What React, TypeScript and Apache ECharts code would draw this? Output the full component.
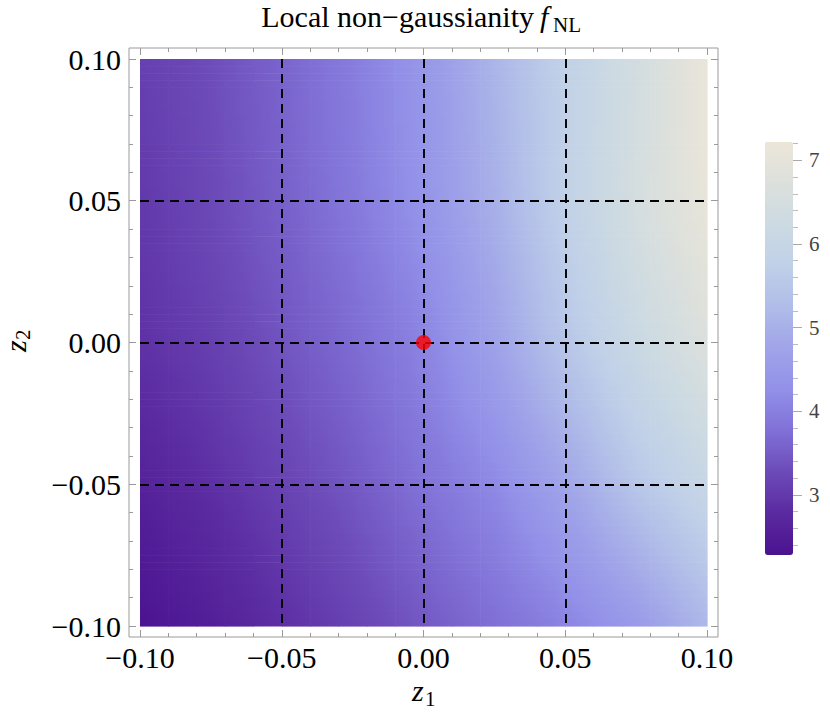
import React, { useEffect, useRef } from 'react';
import * as echarts from 'echarts';

// cell centres of the sampled field (z1 left→right, z2 top→bottom)
const Z1 = [-0.095, -0.085, -0.075, -0.065, -0.055, -0.045, -0.035, -0.025, -0.015, -0.005,
  0.005, 0.015, 0.025, 0.035, 0.045, 0.055, 0.065, 0.075, 0.085, 0.095];
const Z2 = [0.095, 0.085, 0.075, 0.065, 0.055, 0.045, 0.035, 0.025, 0.015, 0.005,
  -0.005, -0.015, -0.025, -0.035, -0.045, -0.055, -0.065, -0.075, -0.085, -0.095];

// f_NL values, one row per Z2 value
const F = [
  [3.13, 3.21, 3.30, 3.42, 3.54, 3.67, 3.81, 3.95, 4.13, 4.31, 4.53, 4.81, 5.09, 5.37, 5.66, 5.92, 6.17, 6.41, 6.69, 6.99],
  [3.11, 3.20, 3.29, 3.41, 3.53, 3.66, 3.80, 3.94, 4.12, 4.30, 4.52, 4.80, 5.07, 5.36, 5.65, 5.93, 6.18, 6.43, 6.70, 6.99],
  [3.10, 3.19, 3.28, 3.40, 3.52, 3.65, 3.79, 3.93, 4.11, 4.29, 4.51, 4.78, 5.05, 5.35, 5.65, 5.93, 6.19, 6.45, 6.71, 6.99],
  [3.08, 3.17, 3.27, 3.39, 3.51, 3.64, 3.78, 3.92, 4.10, 4.28, 4.50, 4.76, 5.03, 5.34, 5.65, 5.93, 6.20, 6.47, 6.72, 6.99],
  [3.06, 3.15, 3.25, 3.37, 3.49, 3.62, 3.76, 3.90, 4.08, 4.26, 4.49, 4.75, 5.01, 5.33, 5.64, 5.94, 6.21, 6.49, 6.73, 6.98],
  [3.04, 3.14, 3.24, 3.36, 3.48, 3.60, 3.74, 3.88, 4.06, 4.23, 4.45, 4.71, 4.97, 5.29, 5.61, 5.91, 6.18, 6.46, 6.72, 6.95],
  [3.02, 3.11, 3.21, 3.33, 3.45, 3.57, 3.71, 3.84, 4.01, 4.18, 4.39, 4.65, 4.91, 5.23, 5.55, 5.85, 6.13, 6.40, 6.65, 6.88],
  [3.00, 3.09, 3.18, 3.30, 3.42, 3.54, 3.67, 3.80, 3.96, 4.12, 4.33, 4.59, 4.85, 5.17, 5.49, 5.79, 6.07, 6.33, 6.57, 6.80],
  [2.97, 3.06, 3.15, 3.27, 3.39, 3.51, 3.63, 3.76, 3.91, 4.06, 4.27, 4.53, 4.79, 5.11, 5.43, 5.73, 6.00, 6.26, 6.49, 6.72],
  [2.95, 3.03, 3.11, 3.23, 3.35, 3.48, 3.60, 3.72, 3.86, 4.01, 4.21, 4.47, 4.73, 5.05, 5.37, 5.66, 5.93, 6.18, 6.41, 6.64],
  [2.91, 2.99, 3.08, 3.20, 3.32, 3.44, 3.56, 3.68, 3.82, 3.96, 4.15, 4.40, 4.65, 4.96, 5.27, 5.56, 5.82, 6.08, 6.31, 6.53],
  [2.85, 2.94, 3.03, 3.15, 3.27, 3.39, 3.51, 3.63, 3.77, 3.91, 4.09, 4.31, 4.54, 4.83, 5.13, 5.41, 5.69, 5.96, 6.18, 6.40],
  [2.80, 2.89, 2.98, 3.10, 3.22, 3.34, 3.46, 3.58, 3.72, 3.86, 4.03, 4.23, 4.43, 4.71, 4.99, 5.27, 5.55, 5.83, 6.05, 6.27],
  [2.74, 2.83, 2.93, 3.05, 3.17, 3.29, 3.41, 3.53, 3.67, 3.81, 3.96, 4.14, 4.32, 4.58, 4.84, 5.12, 5.41, 5.70, 5.92, 6.14],
  [2.68, 2.78, 2.88, 3.00, 3.12, 3.24, 3.36, 3.48, 3.62, 3.76, 3.90, 4.05, 4.21, 4.45, 4.70, 4.97, 5.27, 5.56, 5.78, 6.00],
  [2.62, 2.72, 2.82, 2.94, 3.06, 3.18, 3.30, 3.42, 3.56, 3.70, 3.83, 3.97, 4.11, 4.34, 4.57, 4.82, 5.11, 5.40, 5.62, 5.84],
  [2.56, 2.66, 2.76, 2.88, 3.00, 3.12, 3.24, 3.36, 3.49, 3.63, 3.76, 3.90, 4.03, 4.23, 4.44, 4.67, 4.94, 5.20, 5.43, 5.66],
  [2.50, 2.60, 2.70, 2.82, 2.94, 3.06, 3.18, 3.30, 3.43, 3.56, 3.69, 3.82, 3.95, 4.13, 4.31, 4.52, 4.76, 5.00, 5.24, 5.48],
  [2.44, 2.54, 2.64, 2.76, 2.88, 3.00, 3.12, 3.24, 3.37, 3.49, 3.62, 3.74, 3.87, 4.03, 4.18, 4.37, 4.58, 4.80, 5.05, 5.30],
  [2.38, 2.48, 2.58, 2.70, 2.82, 2.94, 3.06, 3.18, 3.30, 3.42, 3.55, 3.67, 3.79, 3.92, 4.05, 4.22, 4.41, 4.60, 4.86, 5.12],
];

const FIDUCIAL = [[0, 0]];

const AXIS_MIN = -0.1;
const AXIS_MAX = 0.1;
const AXIS_STEP = 0.05;

const BAR_MIN = 2.28;
const BAR_MAX = 7.22;
const BAR_TICKS = [3, 4, 5, 6, 7];
const BAR_MINOR = [2.4, 2.6, 2.8, 3.2, 3.4, 3.6, 3.8, 4.2, 4.4, 4.6, 4.8, 5.2, 5.4, 5.6, 5.8, 6.2, 6.4, 6.6, 6.8, 7.2];

const PALETTE = ['#4b1290', '#5a2aa0', '#6c4ab8', '#8070d6', '#9290e8', '#a0a4e8',
  '#b0bce8', '#c0d0e8', '#ccdae2', '#dce0dc', '#ece6d8'];

const SERIF = '"Liberation Serif", "Times New Roman", serif';
const FRAME = '#9a9a9a';
const STRIPS = 4;

const fmt = (v: number) => (v < -1e-9 ? '\u2212' : '') + Math.abs(v).toFixed(2);

const GRID = { left: 140, top: 59, width: 567, height: 567 };
const PAD = 11;

// colour of a value on the colour scale (same palette as the visualMap)
const colorOf = (v: number) => {
  const t = Math.min(1, Math.max(0, (v - BAR_MIN) / (BAR_MAX - BAR_MIN)));
  return echarts.color.lerp(t, PALETTE) as string;
};

// shading between sampled cell centres (linear, extended over the outer half cells)
const shade = (fi: number, fj: number) => {
  const nc = F[0].length;
  const nr = F.length;
  const i0 = Math.min(nc - 2, Math.max(0, Math.floor(fi)));
  const j0 = Math.min(nr - 2, Math.max(0, Math.floor(fj)));
  const ti = fi - i0;
  const tj = fj - j0;
  const a = F[j0][i0] + (F[j0][i0 + 1] - F[j0][i0]) * ti;
  const b = F[j0 + 1][i0] + (F[j0 + 1][i0 + 1] - F[j0 + 1][i0]) * ti;
  return a + (b - a) * tj;
};

function buildOption() {
  const cells: number[][] = [];
  F.forEach((row, j) => row.forEach((v, i) => cells.push([Z1[i], Z2[j], v, i, j])));
  const hx = Math.abs(Z1[1] - Z1[0]) / 2;
  const hy = Math.abs(Z2[1] - Z2[0]) / 2;

  const baseAxis = {
    min: AXIS_MIN,
    max: AXIS_MAX,
    interval: AXIS_STEP,
    offset: PAD,
    z: 5,
    axisLine: { show: false, onZero: false },
    axisTick: { show: true, inside: true, length: 7, lineStyle: { color: FRAME, width: 1 } },
    minorTick: { show: true, splitNumber: 5, length: 4, lineStyle: { color: FRAME, width: 1 } },
    minorSplitLine: { show: false },
  };
  const dashed = {
    show: true,
    showMinLine: false,
    showMaxLine: false,
    lineStyle: { color: '#000', width: 1.9, type: [9, 6] },
  };
  const label = {
    fontFamily: SERIF,
    fontSize: 30,
    color: '#000',
    formatter: fmt,
  };

  return {
    animation: false,
    backgroundColor: '#fff',
    grid: [
      { ...GRID, containLabel: false },
      { left: 765, top: 142, width: 28, height: 413 },
    ],
    xAxis: [
      { ...baseAxis, type: 'value', gridIndex: 0, position: 'bottom', splitLine: dashed,
        axisLabel: { ...label, margin: 5 } },
      { ...baseAxis, type: 'value', gridIndex: 0, position: 'top', splitLine: { show: false },
        axisLabel: { show: false } },
      { type: 'value', gridIndex: 1, show: false },
    ],
    yAxis: [
      { ...baseAxis, type: 'value', gridIndex: 0, position: 'left', splitLine: dashed,
        axisLabel: { ...label, margin: 8 } },
      { ...baseAxis, type: 'value', gridIndex: 0, position: 'right', splitLine: { show: false },
        axisLabel: { show: false } },
      {
        type: 'value', gridIndex: 1, position: 'right', min: BAR_MIN, max: BAR_MAX, z: 5,
        axisLine: { show: false, onZero: false }, splitLine: { show: false },
        axisTick: { show: true, customValues: BAR_TICKS, length: 9, lineStyle: { color: '#aaa' } },
        axisLabel: { show: true, customValues: BAR_TICKS, margin: 16, fontFamily: SERIF, fontSize: 21, color: '#444' },
      },
      {
        type: 'value', gridIndex: 1, position: 'right', min: BAR_MIN, max: BAR_MAX, z: 5,
        axisLine: { show: false, onZero: false }, splitLine: { show: false },
        axisTick: { show: true, customValues: BAR_MINOR, length: 5, lineStyle: { color: '#bbb' } },
        axisLabel: { show: false },
      },
    ],
    visualMap: {
      type: 'continuous',
      min: BAR_MIN,
      max: BAR_MAX,
      dimension: 2,
      seriesIndex: 0,
      calculable: false,
      hoverLink: false,
      left: 765,
      top: 142,
      itemWidth: 28,
      itemHeight: 413,
      padding: 0,
      inRange: { color: PALETTE },
    },
    series: [
      {
        type: 'custom',
        xAxisIndex: 0,
        yAxisIndex: 0,
        z: 1,
        data: cells,
        encode: { x: 0, y: 1 },
        renderItem: (params: any, api: any) => {
          const x = api.value(0);
          const y = api.value(1);
          const i = api.value(3);
          const j = api.value(4);
          const p1 = api.coord([x - hx, y + hy]);
          const p2 = api.coord([x + hx, y - hy]);
          const w = p2[0] - p1[0];
          const h = (p2[1] - p1[1]) / STRIPS;
          const children = [];
          for (let s = 0; s < STRIPS; s++) {
            const fj = j - 0.5 + (s + 0.5) / STRIPS;
            children.push({
              type: 'rect',
              shape: { x: p1[0], y: p1[1] + s * h, width: w + 0.6, height: h + 0.6 },
              style: {
                fill: {
                  type: 'linear', x: 0, y: 0, x2: 1, y2: 0,
                  colorStops: [
                    { offset: 0, color: colorOf(shade(i - 0.5, fj)) },
                    { offset: 0.5, color: colorOf(shade(i, fj)) },
                    { offset: 1, color: colorOf(shade(i + 0.5, fj)) },
                  ],
                },
              },
            });
          }
          return { type: 'group', children };
        },
      },
      {
        type: 'scatter',
        xAxisIndex: 0,
        yAxisIndex: 0,
        z: 20,
        data: FIDUCIAL,
        symbolSize: 15,
        itemStyle: { color: '#ff0000' },
      },
    ],
    graphic: [
      {
        type: 'rect',
        shape: { x: GRID.left - PAD, y: GRID.top - PAD, width: GRID.width + 2 * PAD, height: GRID.height + 2 * PAD },
        style: { fill: 'none', stroke: FRAME, lineWidth: 1 },
        z: 4,
      },
      { type: 'text', x: 534, y: 31, style: { text: 'Local non\u2212gaussianity', fontFamily: SERIF, fontSize: 30, fill: '#000', align: 'right', verticalAlign: 'bottom' } },
      { type: 'text', x: 540, y: 31, style: { text: 'f', fontFamily: SERIF, fontSize: 30, fontStyle: 'italic', fill: '#000', align: 'left', verticalAlign: 'bottom' } },
      { type: 'text', x: 553, y: 35, style: { text: 'NL', fontFamily: SERIF, fontSize: 21, fill: '#000', align: 'left', verticalAlign: 'bottom' } },
      { type: 'text', x: 412, y: 690, style: { text: 'z', fontFamily: SERIF, fontSize: 30, fontStyle: 'italic', fill: '#000', align: 'left', verticalAlign: 'middle' } },
      { type: 'text', x: 425, y: 699, style: { text: '1', fontFamily: SERIF, fontSize: 21, fill: '#000', align: 'left', verticalAlign: 'middle' } },
      {
        type: 'group', x: 15, y: 352, rotation: Math.PI / 2,
        children: [
          { type: 'text', x: 0, y: 0, style: { text: 'z', fontFamily: SERIF, fontSize: 30, fontStyle: 'italic', fill: '#000', align: 'left', verticalAlign: 'middle' } },
          { type: 'text', x: 12, y: 8, style: { text: '2', fontFamily: SERIF, fontSize: 21, fill: '#000', align: 'left', verticalAlign: 'middle' } },
        ],
      },
    ],
  };
}

export default function App() {
  const ref = useRef<HTMLDivElement>(null);
  useEffect(() => {
    if (!ref.current) return;
    const chart = echarts.init(ref.current, null, { renderer: 'svg' });
    chart.setOption(buildOption() as any);
    return () => chart.dispose();
  }, []);
  return <div ref={ref} style={{ position: 'fixed', left: 0, top: 0, width: 830, height: 726 }} />;
}
